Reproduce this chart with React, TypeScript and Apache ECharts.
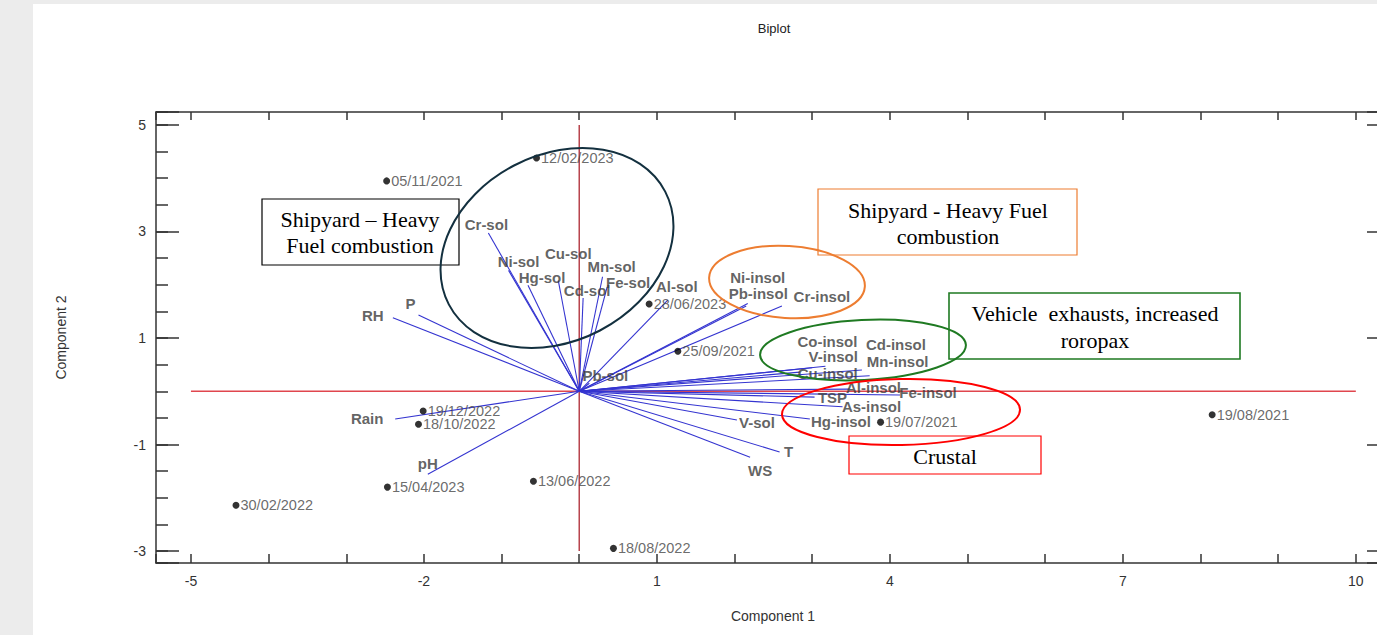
import React, { useEffect, useRef } from "react";
import * as echarts from "echarts";

// ---- Data ----
const scoreNames = [
  "12/02/2023", "05/11/2021", "28/06/2023", "25/09/2021", "19/12/2022", "18/10/2022",
  "15/04/2023", "30/02/2022", "13/06/2022", "18/08/2022", "19/07/2021", "19/08/2021",
];
const scoreX = [-0.55, -2.48, 0.9, 1.27, -2.01, -2.07, -2.47, -4.42, -0.59, 0.44, 3.88, 8.15];
const scoreY = [4.38, 3.95, 1.64, 0.75, -0.37, -0.62, -1.8, -2.14, -1.69, -2.95, -0.58, -0.44];

const loadingNames = [
  "Cr-sol", "Ni-sol", "Cu-sol", "Hg-sol", "Mn-sol", "Fe-sol", "Cd-sol", "Al-sol", "Pb-sol", "V-sol",
  "Ni-insol", "Pb-insol", "Cr-insol", "Co-insol", "V-insol", "Cu-insol", "Cd-insol", "Mn-insol",
  "Al-insol", "Fe-insol", "As-insol", "Hg-insol", "TSP", "T", "WS", "RH", "P", "Rain", "pH",
];
const loadingX = [
  -1.17, -0.91, -0.27, -0.66, 0.3, 0.36, 0.05, 1.14, 0.13, 2.03,
  2.17, 2.15, 2.61, 3.17, 3.0, 2.84, 3.64, 3.74,
  3.48, 4.13, 3.39, 2.97, 3.03, 2.58, 2.2, -2.4, -2.07, -2.37, -1.95,
];
const loadingY = [
  2.97, 2.27, 2.08, 1.99, 2.15, 1.96, 1.75, 1.71, 0.15, -0.54,
  1.65, 1.6, 1.6, 0.47, 0.44, 0.36, 0.4, 0.29,
  0.04, -0.07, -0.29, -0.52, -0.11, -1.14, -1.24, 1.38, 1.43, -0.52, -1.56,
];

const xTickLabels = [-5, -2, 1, 4, 7, 10];
const yTickLabels = [5, 3, 1, -1, -3];

const refHorizontal = [[-5, 0], [10, 0]];
const refVertical = [[0, -3], [0, 5]];

// ---- Layout (pixel offsets of loading labels from their arrow tips) ----
const loadingLabelOffsets = [
  [-2, -9], [10, -9], [10, -27], [14, -8], [9, -10], [21, -4], [4, -8], [9, -14], [16, -8], [20, 2],
  [10, -26], [12, -13], [40, -10], [2, -25], [21, -11], [28, 1], [34, -25], [28, -14],
  [24, -2], [28, -2], [29, 0], [31, 3], [18, 0], [9, 0], [10, 13], [-20, -2], [-8, -12], [-28, 0], [0, -11],
];

const SANS = "'Liberation Sans', Arial, sans-serif";
const SERIF = "'Liberation Serif', 'Times New Roman', serif";
const AXIS_COLOR = "#333";

export default function App() {
  const ref = useRef<HTMLDivElement>(null);

  useEffect(() => {
    if (!ref.current) return;
    const chart = echarts.init(ref.current, undefined, { renderer: "svg" });

    const xMin = -5.45, xMax = 10.44;
    const yMin = -3.225, yMax = 5.244;

    const baseAxisLine = { show: true, onZero: false, lineStyle: { color: AXIS_COLOR, width: 1.5 } };
    const hiddenAxisLine = { show: false, onZero: false };

    const serifText = (x: number, y: number, text: string) => ({
      type: "text", x, y, z: 15, silent: true,
      style: { text, font: `22px ${SERIF}`, fill: "#000", align: "center", verticalAlign: "middle" },
    });
    const box = (x: number, y: number, w: number, h: number, stroke: string, lw: number) => ({
      type: "rect", z: 15, silent: true, shape: { x, y, width: w, height: h },
      style: { fill: "none", stroke, lineWidth: lw },
    });
    const ellipse = (x: number, y: number, rx: number, ry: number, rot: number, stroke: string) => ({
      type: "ellipse", x, y, rotation: rot, z: 20, silent: true,
      shape: { cx: 0, cy: 0, rx, ry }, style: { fill: "none", stroke, lineWidth: 2 },
    });

    const option: any = {
      animation: false,
      backgroundColor: "#ececec",
      textStyle: { fontFamily: SANS },
      grid: {
        left: 156, top: 112, width: 1234, height: 451, show: false,
        containLabel: false, outerBoundsMode: "none",
      },
      xAxis: [
        {
          type: "value", position: "bottom", min: xMin, max: xMax, splitNumber: 16,
          minInterval: 1, maxInterval: 1,
          axisLine: baseAxisLine,
          axisTick: { show: true, inside: true, length: 9, lineStyle: { color: AXIS_COLOR, width: 1.5 } },
          axisLabel: {
            color: AXIS_COLOR, fontSize: 14, margin: 11,
            formatter: (v: number) => (xTickLabels.includes(v) ? String(v) : ""),
          },
          splitLine: { show: false },
          name: "Component 1", nameLocation: "middle", nameGap: 46,
          nameTextStyle: { color: AXIS_COLOR, fontSize: 14 },
        },
        {
          type: "value", position: "top", min: xMin, max: xMax, splitNumber: 16,
          minInterval: 1, maxInterval: 1,
          axisLine: baseAxisLine,
          axisTick: { show: true, inside: true, length: 8, lineStyle: { color: AXIS_COLOR, width: 1.5 } },
          axisLabel: { show: false },
          splitLine: { show: false },
        },
      ],
      yAxis: [
        {
          type: "value", position: "left", min: yMin, max: yMax, splitNumber: 17,
          minInterval: 0.5, maxInterval: 0.5,
          axisLine: baseAxisLine,
          axisTick: { show: true, inside: true, length: 12, lineStyle: { color: AXIS_COLOR, width: 1.5 } },
          axisLabel: { show: false },
          splitLine: { show: false },
        },
        {
          // same pixel scale shifted by one unit: its even ticks fall on the odd values
          type: "value", position: "left", min: yMin + 1, max: yMax + 1, splitNumber: 4,
          minInterval: 2, maxInterval: 2,
          axisLine: hiddenAxisLine,
          axisTick: { show: true, inside: true, length: 23, lineStyle: { color: AXIS_COLOR, width: 1.5 } },
          axisLabel: {
            color: AXIS_COLOR, fontSize: 14, margin: 10,
            formatter: (v: number) => (yTickLabels.includes(v - 1) ? String(v - 1) : ""),
          },
          splitLine: { show: false },
          name: "Component 2", nameLocation: "middle", nameGap: 88, nameRotate: 90,
          nameTextStyle: { color: AXIS_COLOR, fontSize: 14 },
        },
        {
          type: "value", position: "right", min: yMin, max: yMax, splitNumber: 17,
          minInterval: 0.5, maxInterval: 0.5,
          axisLine: hiddenAxisLine,
          axisTick: { show: true, inside: true, length: 12, lineStyle: { color: AXIS_COLOR, width: 1.5 } },
          axisLabel: { show: false },
          splitLine: { show: false },
        },
        {
          type: "value", position: "right", min: yMin + 1, max: yMax + 1, splitNumber: 4,
          minInterval: 2, maxInterval: 2,
          axisLine: hiddenAxisLine,
          axisTick: { show: true, inside: true, length: 23, lineStyle: { color: AXIS_COLOR, width: 1.5 } },
          axisLabel: { show: false },
          splitLine: { show: false },
        },
      ],
      graphic: [
        { type: "rect", z: -10, silent: true, shape: { x: 33, y: 4, width: 1400, height: 700 }, style: { fill: "#fff" } },
        { type: "text", x: 774, y: 28, z: 10, silent: true, style: { text: "Biplot", font: `13px ${SANS}`, fill: "#222", align: "center", verticalAlign: "middle" } },
        ellipse(557, 248, 122, 93, 0.48, "#13303f"),
        ellipse(787, 282, 78, 36, -0.06, "#ed7d31"),
        ellipse(863, 350, 103, 30, 0.05, "#1f7a22"),
        ellipse(901, 412, 119, 33, 0.02, "#ff0000"),
        box(262, 199, 197, 66, "#000", 1.2),
        serifText(360, 219, "Shipyard – Heavy"),
        serifText(360, 245, "Fuel combustion"),
        box(818, 189, 259, 66, "#ed7d31", 1.2),
        serifText(948, 210, "Shipyard - Heavy Fuel"),
        serifText(948, 236, "combustion"),
        box(949, 293, 291, 66, "#1f7a22", 1.6),
        serifText(1095, 313, "Vehicle  exhausts, increased"),
        serifText(1095, 340, "roropax"),
        box(849, 436, 192, 38, "#ff0000", 1.2),
        serifText(945, 456, "Crustal"),
      ],
      series: [
        {
          type: "line", data: refHorizontal, symbol: "none", z: 1,
          lineStyle: { color: "#e0464e", width: 1.5 }, silent: true,
        },
        {
          type: "line", data: refVertical, symbol: "none", z: 1,
          lineStyle: { color: "#b8434c", width: 1.5 }, silent: true,
        },
        {
          type: "lines", coordinateSystem: "cartesian2d", z: 3, silent: true,
          lineStyle: { color: "#3434d0", width: 1.1, opacity: 1 },
          data: loadingNames.map((n, i) => ({ name: n, coords: [[0, 0], [loadingX[i], loadingY[i]]] })),
        },
        {
          type: "scatter", z: 5, symbol: "circle", symbolSize: 0.1, silent: true,
          itemStyle: { color: "rgba(0,0,0,0)" },
          label: {
            show: true, position: "inside", formatter: "{b}", fontFamily: SANS,
            fontWeight: "bold", fontSize: 15, color: "#3a3a3a",
          },
          data: loadingNames.map((n, i) => ({
            name: n, value: [loadingX[i], loadingY[i]],
            label: { offset: loadingLabelOffsets[i] },
          })),
        },
        {
          type: "scatter", z: 6, symbol: "circle", symbolSize: 7, silent: true,
          itemStyle: { color: "#000" },
          label: {
            show: true, position: "right", distance: 1, formatter: "{b}",
            fontFamily: SANS, fontSize: 14.5, color: "#454545",
          },
          data: scoreNames.map((n, i) => ({ name: n, value: [scoreX[i], scoreY[i]] })),
        },
      ],
    };

    chart.setOption(option);
    return () => chart.dispose();
  }, []);

  return (
    <div
      ref={ref}
      style={{ position: "absolute", left: 0, top: 0, width: 1377, height: 635 }}
    />
  );
}
